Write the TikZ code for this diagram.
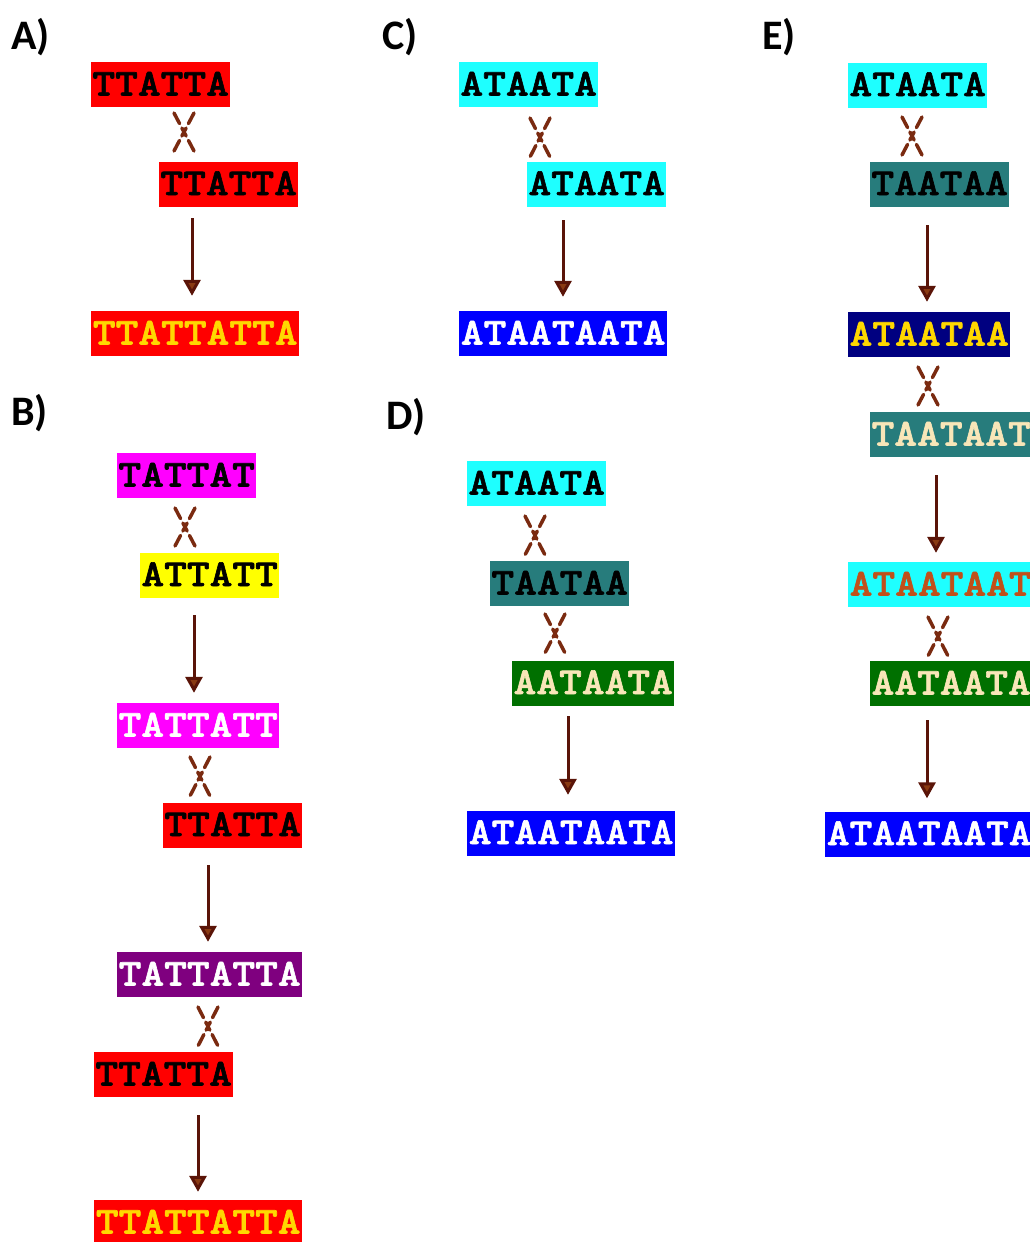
\documentclass[tikz,border=0pt]{standalone}
\usepackage{fontspec}
\newfontfamily\seqfont[FakeStretch=1.14,FakeBold=1.6]{lmmonolt10-bold.otf}
\newfontfamily\lblfont{Carlito}
\usetikzlibrary{arrows.meta}
\definecolor{cRed}{HTML}{FF0000}
\definecolor{cCyan}{HTML}{1EFFFF}
\definecolor{cBlue}{HTML}{0000FF}
\definecolor{cMag}{HTML}{FF00FF}
\definecolor{cYel}{HTML}{FFFF00}
\definecolor{cPurp}{HTML}{7F007F}
\definecolor{cTeal}{HTML}{277C7C}
\definecolor{cGreen}{HTML}{007000}
\definecolor{cNavy}{HTML}{000080}
\definecolor{tGold}{HTML}{FFD800}
\definecolor{tBeige}{HTML}{F8E6B8}
\definecolor{tOrange}{HTML}{C0501A}
\definecolor{brStem}{HTML}{5A1408}
\definecolor{brHead}{HTML}{8A3A12}
\definecolor{brCross}{HTML}{7A2A10}
\tikzset{
  seq/.style={anchor=west, inner xsep=0pt, inner ysep=0pt, minimum height=45pt,
    text height=22pt, text depth=0pt, font=\seqfont\fontsize{38}{38}\selectfont},
  w6/.style={minimum width=139pt},
  w7/.style={minimum width=162pt},
  w8/.style={minimum width=185pt},
  w9/.style={minimum width=208pt},
  lbl/.style={anchor=west, inner sep=0pt, font=\lblfont\fontsize{42}{42}\selectfont\bfseries},
  arr/.style={draw=brStem, line width=3pt, -{Triangle[width=17pt,length=16pt,fill=brHead]}},
  crs/.style={draw=brCross, line width=3.5pt, line cap=round,
    dash pattern=on 12pt off 5pt on 9pt off 5pt on 12pt}
}
\newcommand{\crossmark}[3]{%
  \draw[crs] (#1-10,#2) -- (#1+10,#3);
  \draw[crs] (#1+10,#2) -- (#1-10,#3);
}
\newcommand{\arrowc}[5]{%
  \draw[arr, shorten <=#4pt, shorten >=#5pt] (#1.south -| #3,0) -- (#2.north -| #3,0);
}
\begin{document}
\begin{tikzpicture}[x=1pt,y=-1pt]
\useasboundingbox (0,0) rectangle (1030,1242);
\clip (0,0) rectangle (1030,1242);
% labels
\node[lbl] (LA) at (11,37) {A)};
\node[lbl] (LB) at (11,413) {B)};
\node[lbl] (LC) at (382,37) {C)};
\node[lbl] (LD) at (386,417) {D)};
\node[lbl] (LE) at (762,37) {E)};
% A
\node[seq, w6, fill=cRed] (A1) at (91,84.5) {TTATTA};
\node[seq, w6, fill=cRed] (A2) at (159,184) {TTATTA};
\node[seq, w9, fill=cRed, text=tGold] (A3) at (91,333.5) {TTATTATTA};
\crossmark{184}{113}{151}
\arrowc{A2}{A3}{192}{11.5}{15}
% B
\node[seq, w6, fill=cMag] (B1) at (117,475.5) {TATTAT};
\node[seq, w6, fill=cYel] (B2) at (140,575) {ATTATT};
\node[seq, w7, fill=cMag, text=white] (B3) at (117,725.5) {TATTATT};
\node[seq, w6, fill=cRed] (B4) at (163,825) {TTATTA};
\node[seq, w8, fill=cPurp, text=white] (B5) at (117,974.5) {TATTATTA};
\node[seq, w6, fill=cRed] (B6) at (94,1074.5) {TTATTA};
\node[seq, w9, fill=cRed, text=tGold] (B7) at (94,1222.5) {TTATTATTA};
\crossmark{185}{508}{546}
\crossmark{200}{757}{796}
\crossmark{208}{1007}{1046}
\arrowc{B2}{B3}{194}{17.5}{10}
\arrowc{B4}{B5}{208}{17.5}{10}
\arrowc{B6}{B7}{198}{18}{8}
% C
\node[seq, w6, fill=cCyan] (C1) at (459,84.5) {ATAATA};
\node[seq, w6, fill=cCyan] (C2) at (527,184) {ATAATA};
\node[seq, w9, fill=cBlue, text=white] (C3) at (459,333.5) {ATAATAATA};
\crossmark{540}{118}{157}
\arrowc{C2}{C3}{563}{13.5}{14}
% D
\node[seq, w6, fill=cCyan] (D1) at (467,483.5) {ATAATA};
\node[seq, w6, fill=cTeal] (D2) at (490,583.5) {TAATAA};
\node[seq, w7, fill=cGreen, text=tBeige] (D3) at (512,683) {AATAATA};
\node[seq, w9, fill=cBlue, text=white] (D4) at (467,833) {ATAATAATA};
\crossmark{535}{516}{555}
\crossmark{555}{614}{653}
\arrowc{D3}{D4}{568}{10.5}{15.5}
% E
\node[seq, w6, fill=cCyan] (E1) at (848,85) {ATAATA};
\node[seq, w6, fill=cTeal] (E2) at (870,184) {TAATAA};
\node[seq, w7, fill=cNavy, text=tGold] (E3) at (848,334.5) {ATAATAA};
\node[seq, w7, fill=cTeal, text=tBeige] (E4) at (870,434.5) {TAATAAT};
\node[seq, w8, fill=cCyan, text=tOrange] (E5) at (848,584.5) {ATAATAAT};
\node[seq, w7, fill=cGreen, text=tBeige] (E6) at (870,683.5) {AATAATA};
\node[seq, w9, fill=cBlue, text=white] (E7) at (825,834) {ATAATAATA};
\crossmark{912}{117}{155}
\crossmark{928}{367}{405}
\crossmark{938}{617}{656}
\arrowc{E2}{E3}{927}{18.5}{10}
\arrowc{E4}{E5}{936}{18}{9}
\arrowc{E6}{E7}{927}{14}{13}
\end{tikzpicture}
\end{document}
